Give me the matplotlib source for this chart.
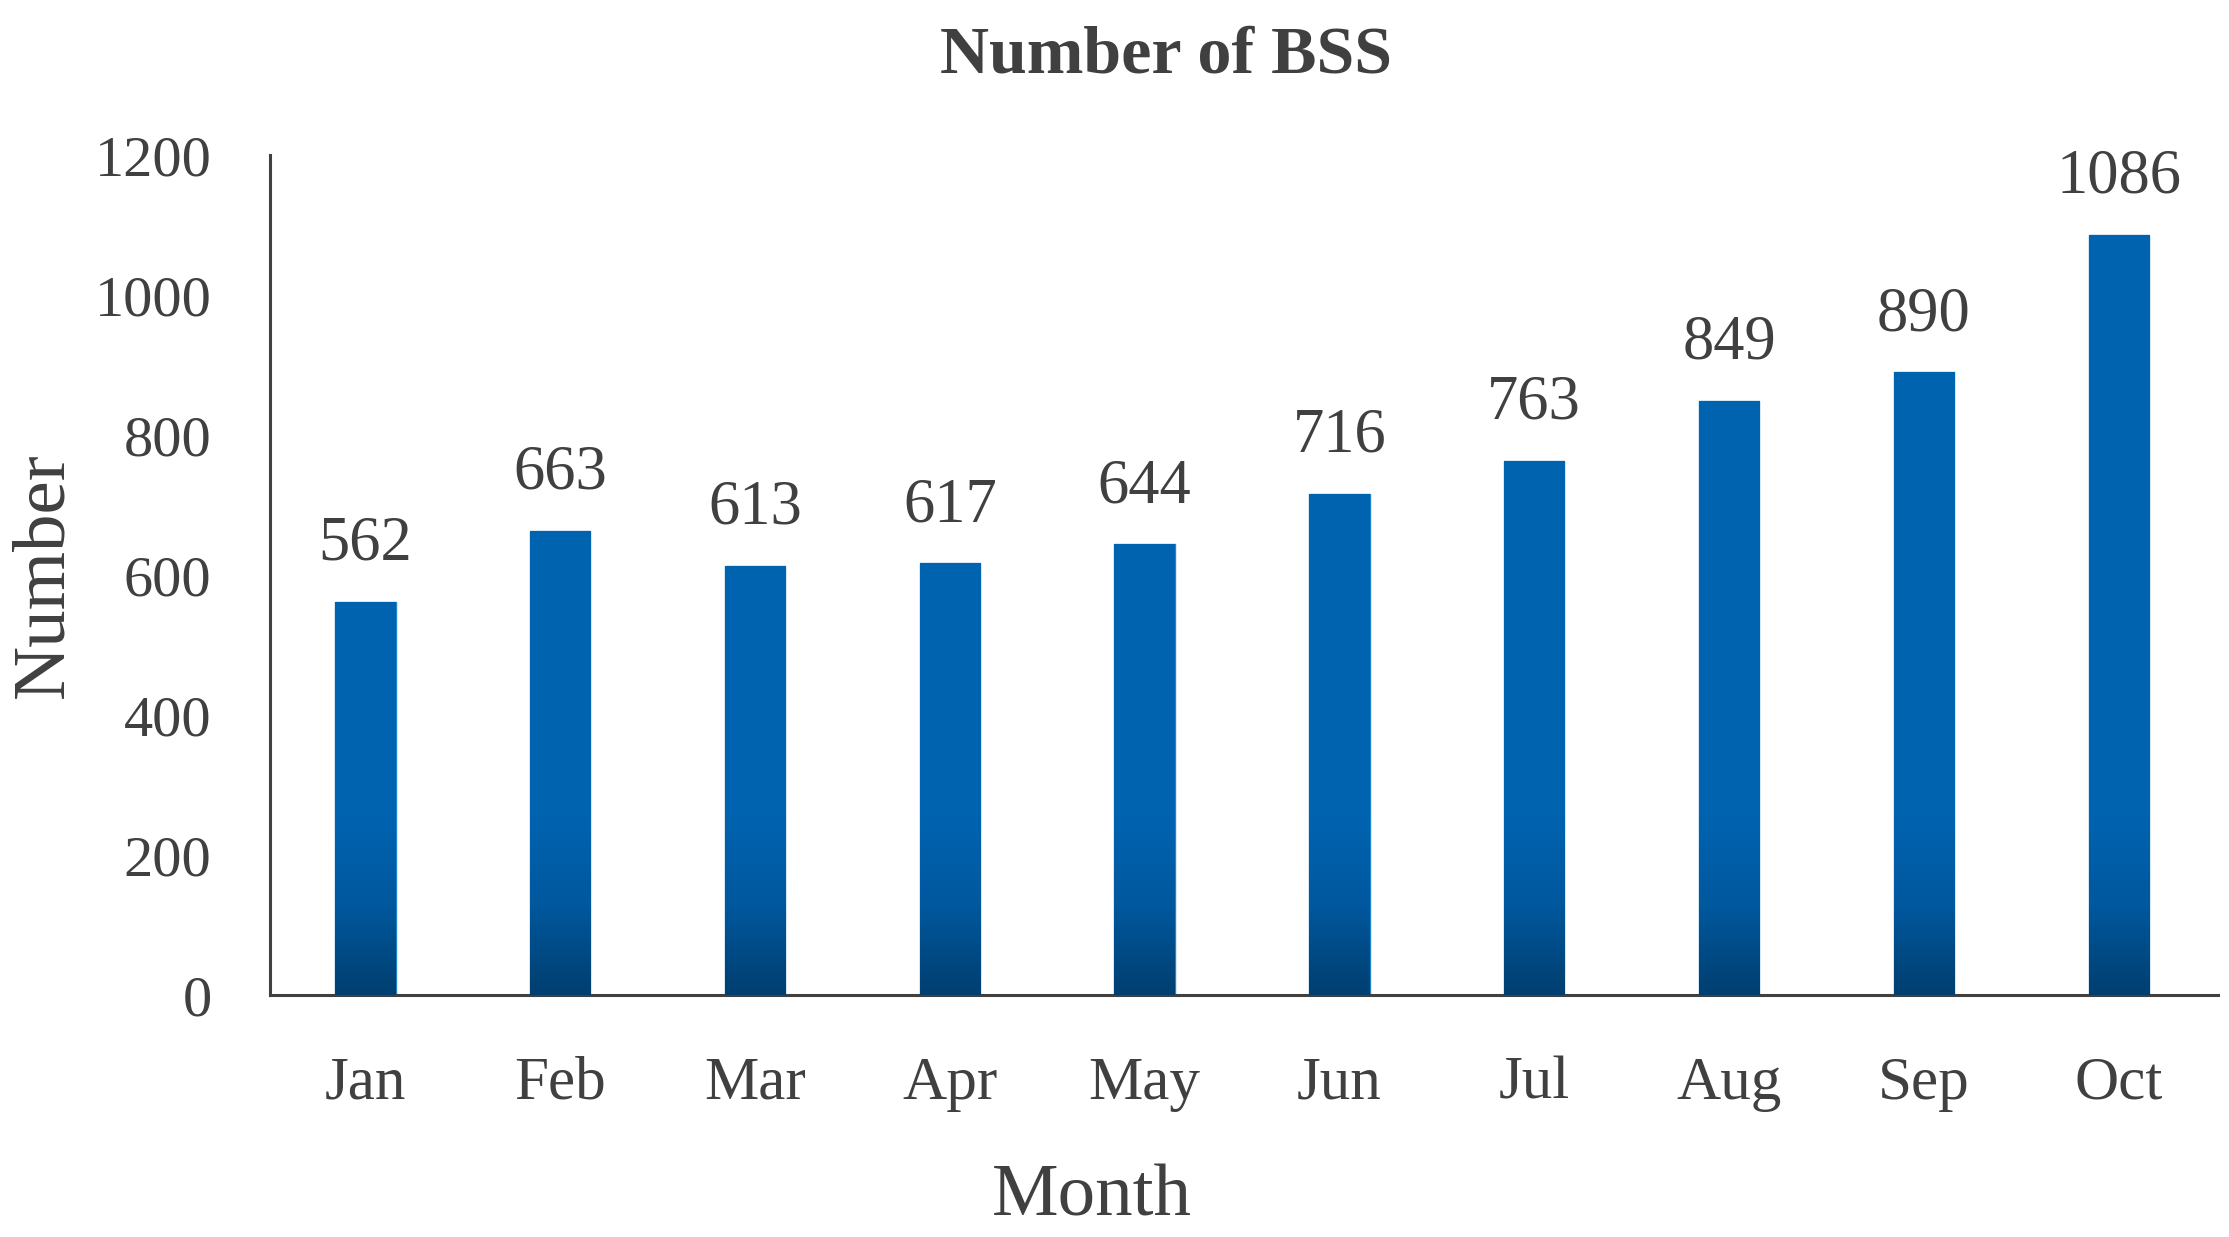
import matplotlib
matplotlib.use("Agg")
import matplotlib.pyplot as plt
import numpy as np
from matplotlib.colors import LinearSegmentedColormap

months = ["Jan", "Feb", "Mar", "Apr", "May", "Jun", "Jul", "Aug", "Sep", "Oct"]
counts = [562, 663, 613, 617, 644, 716, 763, 849, 890, 1086]
yticks = [0, 200, 400, 600, 800, 1000, 1200]

plt.rcParams["font.family"] = ["Liberation Serif", "DejaVu Serif"]
text_color = "#404040"

fig = plt.figure(figsize=(22.29, 12.37), dpi=100)
ax = fig.add_axes([0.1211, 0.1956, 0.874, 0.679])

x = np.arange(len(months))
width = 0.31
bars = ax.bar(x, counts, width=width, color="#0063B0", edgecolor="#1f86d0", linewidth=1.0, zorder=2)

# vertical gradient: darker near the baseline
cmap = LinearSegmentedColormap.from_list("bss", ["#003f70", "#00589e", "#0063B0", "#0063B0"])
grad_top = 1200
grad = np.linspace(0, 1, 256).reshape(-1, 1)
grad = np.clip(grad * grad_top / 380.0, 0, 1)
for b, v in zip(bars, counts):
    im = ax.imshow(grad, cmap=cmap, vmin=0, vmax=1, origin="lower", aspect="auto",
                   extent=[b.get_x(), b.get_x() + b.get_width(), 0, grad_top],
                   zorder=3, interpolation="bilinear")
    im.set_clip_path(b)
    ax.text(b.get_x() + b.get_width() / 2, v + 40, str(v), ha="center", va="bottom",
            fontsize=45, color=text_color, zorder=4)

ax.set_xlim(-0.49, 9.51)
ax.set_ylim(0, 1200)
ax.set_yticks(yticks)
ax.set_xticks(x)
ax.set_xticklabels(months, fontsize=44)
ax.tick_params(axis="both", length=0, labelsize=42, labelcolor=text_color)
ax.tick_params(axis="x", labelsize=44, pad=44)
ax.tick_params(axis="y", pad=42)

for s in ["top", "right"]:
    ax.spines[s].set_visible(False)
for s in ["left", "bottom"]:
    ax.spines[s].set_color(text_color)
    ax.spines[s].set_linewidth(2.2)

fig.text(0.49, 0.032, "Month", ha="center", va="center", fontsize=54, color=text_color)
fig.text(0.020, 0.535, "Number", ha="center", va="center", rotation=90, fontsize=54,
         color=text_color)
fig.text(0.523, 0.955, "Number of BSS", ha="center", va="center", fontsize=49,
         fontweight="bold", color=text_color)

fig.savefig("out.png", dpi=100, facecolor="white")
